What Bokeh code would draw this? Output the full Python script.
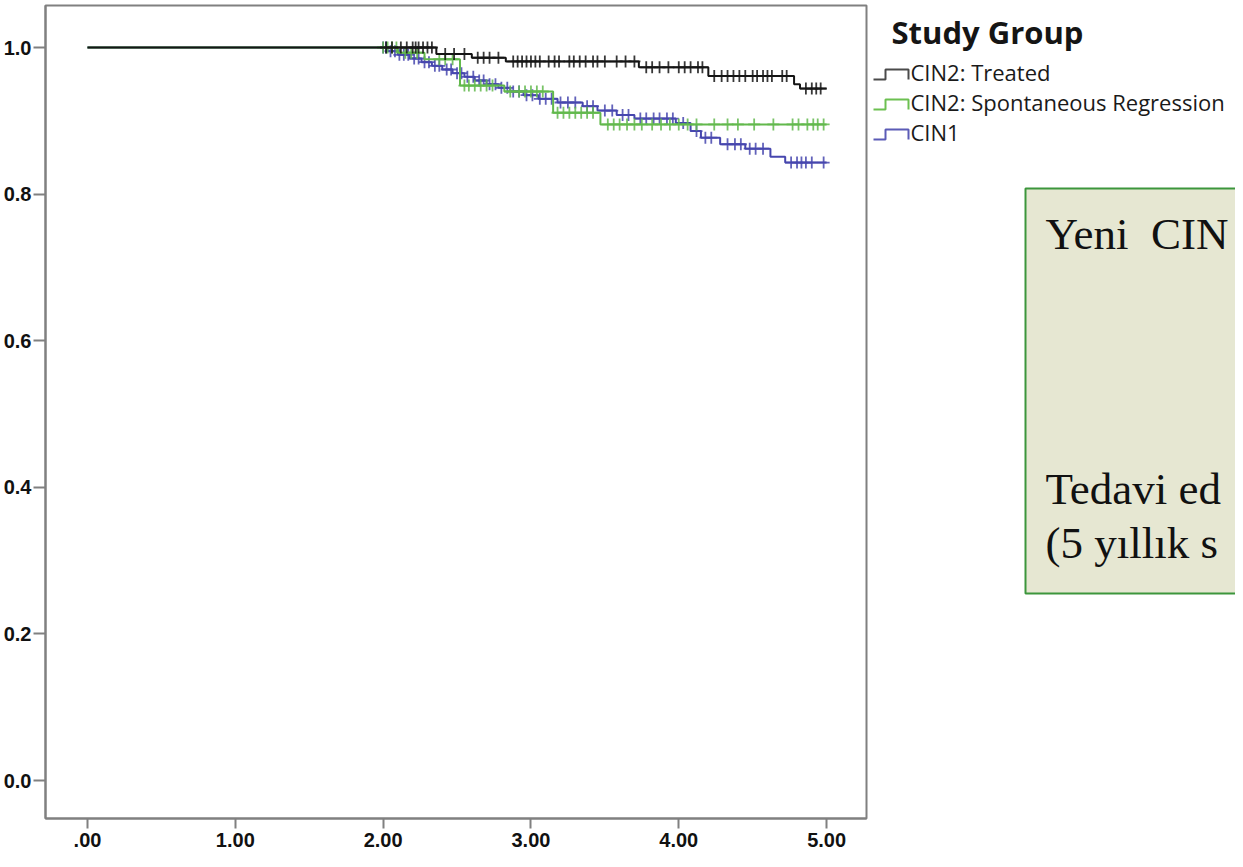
import numpy as np
from bokeh.plotting import figure
from bokeh.models import Range1d, FixedTicker
from bokeh.layouts import row
from bokeh.core.properties import value
from bokeh.embed import file_html
from bokeh.resources import INLINE

# ---------------- data ----------------
x_ticks = [0, 1, 2, 3, 4, 5]
x_tick_labels = [".00", "1.00", "2.00", "3.00", "4.00", "5.00"]
y_ticks = [0.0, 0.2, 0.4, 0.6, 0.8, 1.0]
y_tick_labels = ["0.0", "0.2", "0.4", "0.6", "0.8", "1.0"]
t_end = 5.0

groups = ["CIN2: Treated", "CIN2: Spontaneous Regression", "CIN1"]

treated_t = [0.0, 2.36, 2.60, 2.83, 3.73, 4.20, 4.78, 4.82]
treated_s = [1.0, 0.991, 0.986, 0.981, 0.973, 0.961, 0.950, 0.944]
treated_cens = [2.02, 2.06, 2.12, 2.16, 2.20, 2.22, 2.24, 2.27, 2.30, 2.33, 2.42, 2.48,
                2.55, 2.64, 2.68, 2.72, 2.78, 2.88, 2.91, 2.94, 2.97, 3.00, 3.03, 3.06,
                3.12, 3.16, 3.19, 3.26, 3.29, 3.33, 3.37, 3.42, 3.45, 3.50, 3.58, 3.64,
                3.70, 3.78, 3.82, 3.87, 3.93, 4.00, 4.04, 4.08, 4.13, 4.16, 4.24, 4.29,
                4.33, 4.37, 4.41, 4.45, 4.50, 4.53, 4.57, 4.60, 4.63, 4.70, 4.73, 4.86,
                4.90, 4.93, 4.96]

spont_t = [0.0, 2.10, 2.28, 2.52, 2.82, 3.15, 3.47]
spont_s = [1.0, 0.993, 0.984, 0.948, 0.940, 0.911, 0.895]
spont_cens = [2.00, 2.03, 2.06, 2.09, 2.15, 2.19, 2.23, 2.38, 2.42, 2.47, 2.55, 2.58,
              2.62, 2.66, 2.70, 2.74, 2.86, 2.92, 2.96, 3.00, 3.04, 3.08, 3.18, 3.22,
              3.26, 3.30, 3.34, 3.38, 3.42, 3.52, 3.56, 3.60, 3.65, 3.70, 3.75, 3.82,
              3.88, 3.94, 4.00, 4.06, 4.12, 4.24, 4.33, 4.40, 4.51, 4.64, 4.77, 4.81,
              4.87, 4.91, 4.94, 4.98]

cin1_t = [0.0, 2.03, 2.10, 2.18, 2.26, 2.33, 2.40, 2.47, 2.55, 2.62, 2.70, 2.78, 2.86,
          2.95, 3.05, 3.18, 3.35, 3.45, 3.58, 3.70, 3.98, 4.08, 4.15, 4.28, 4.45, 4.62, 4.72]
cin1_s = [1.0, 0.995, 0.990, 0.985, 0.980, 0.975, 0.970, 0.965, 0.960, 0.955, 0.950, 0.945,
          0.940, 0.935, 0.930, 0.925, 0.920, 0.914, 0.908, 0.903, 0.897, 0.886, 0.877,
          0.868, 0.862, 0.851, 0.843]
cin1_cens = [2.00, 2.02, 2.05, 2.08, 2.11, 2.14, 2.17, 2.21, 2.24, 2.28, 2.31, 2.35, 2.38,
             2.43, 2.46, 2.50, 2.53, 2.57, 2.61, 2.65, 2.68, 2.72, 2.76, 2.80, 2.84, 2.88,
             2.92, 2.97, 3.01, 3.06, 3.10, 3.14, 3.20, 3.25, 3.30, 3.38, 3.42, 3.50, 3.55,
             3.62, 3.66, 3.74, 3.78, 3.83, 3.87, 3.92, 3.96, 4.03, 4.12, 4.18, 4.22, 4.33,
             4.38, 4.42, 4.48, 4.52, 4.57, 4.76, 4.80, 4.83, 4.86, 4.90, 4.98]

colors = ["#151515", "#62b84c", "#4646ae"]
legend_colors = ["#4a4a4a", "#6cc051", "#5b5bb6"]

legend_title = "Study Group"
box_lines = ["Yeni \u00a0CIN", "Tedavi ed", "(5 yıllık s"]

# ---------------- main KM plot ----------------
W, H = 1235, 851
W1 = 870
BT, BB = 5, 33   # shared top / bottom borders (frames are aligned in a row)

p = figure(width=W1, height=H, x_range=Range1d(-0.284, 5.27),
           y_range=Range1d(-0.0518, 1.0573),
           output_backend="svg", toolbar_location=None,
           min_border_left=44, min_border_right=4, min_border_top=BT,
           min_border_bottom=BB)
p.grid.visible = False
p.background_fill_color = "white"
p.border_fill_color = "white"
p.outline_line_color = "#808080"
p.outline_line_width = 2

for ax in (p.xaxis[0], p.yaxis[0]):
    ax.axis_line_color = "#808080"
    ax.axis_line_width = 2
    ax.major_tick_line_color = "#808080"
    ax.major_tick_line_width = 2
    ax.minor_tick_line_color = None
    ax.major_tick_in = 0
    ax.major_label_text_color = "#111111"
    ax.major_label_text_font_style = "bold"

p.xaxis.ticker = FixedTicker(ticks=x_ticks)
p.xaxis.major_label_overrides = {t: l for t, l in zip(x_ticks, x_tick_labels)}
p.xaxis.major_tick_out = 10
p.xaxis.major_label_standoff = 4
p.xaxis.major_label_text_font = "Liberation Sans Narrow, Liberation Sans"
p.xaxis.major_label_text_font_size = "20px"

p.yaxis.ticker = FixedTicker(ticks=y_ticks)
p.yaxis.major_label_overrides = {t: l for t, l in zip(y_ticks, y_tick_labels)}
p.yaxis.major_tick_out = 12
p.yaxis.major_label_standoff = 2
p.yaxis.major_label_text_font = "Liberation Sans"
p.yaxis.major_label_text_font_size = "20px"


def surv_at(ts, ss, c):
    idx = np.searchsorted(np.array(ts), np.array(c), side="right") - 1
    return list(np.array(ss)[idx])


series = [(treated_t, treated_s, treated_cens),
          (spont_t, spont_s, spont_cens),
          (cin1_t, cin1_s, cin1_cens)]

# draw CIN1 first, treated last (on top)
for i in [2, 1, 0]:
    ts, ss, cs = series[i]
    xs = list(ts) + [t_end]
    ys = list(ss) + [ss[-1]]
    p.step(xs, ys, mode="after", line_color=colors[i], line_width=2)
    p.scatter(cs, surv_at(ts, ss, cs), marker="cross", size=12,
              line_color=colors[i], line_width=1.8, line_alpha=0.85)

# ---------------- legend + annotation box panel ----------------
W2 = W - W1
p2 = figure(width=W2, height=H, x_range=Range1d(0, W2),
            y_range=Range1d(H - BB, BT),
            output_backend="svg", toolbar_location=None,
            x_axis_location=None, y_axis_location=None,
            min_border_left=0, min_border_right=0,
            min_border_top=BT, min_border_bottom=BB)
p2.grid.visible = False
p2.outline_line_color = None
p2.background_fill_color = "white"
p2.border_fill_color = "white"

p2.text(x=[21], y=[31], text=[legend_title], text_font=value("Open Sans"),
        text_font_style="bold", text_font_size="31px", text_color="#151515",
        text_baseline="middle")

item_y = [71, 101, 131]
for i, g in enumerate(groups):
    yc = item_y[i]
    p2.line([3, 15, 15, 38, 38], [yc + 8, yc + 8, yc - 2, yc - 2, yc + 8],
            line_color=legend_colors[i], line_width=2)
    p2.text(x=[40], y=[yc], text=[g], text_font=value("Open Sans"),
            text_font_size="22px", text_color="#1a1a1a", text_baseline="middle")

# annotation box (extends beyond the right edge of the page)
p2.quad(left=[155], right=[W2 + 60], top=[188], bottom=[593],
        fill_color="#e6e7d2", line_color="#3c963c", line_width=2)
for txt, yb in zip(box_lines, [233, 488, 542]):
    p2.text(x=[175], y=[yb], text=[txt], text_font=value("Liberation Serif"),
            text_font_size="45px", text_color="#111111", text_baseline="alphabetic")

layout = row(p, p2, spacing=0)
open("out.html", "w").write(file_html(layout, INLINE))
